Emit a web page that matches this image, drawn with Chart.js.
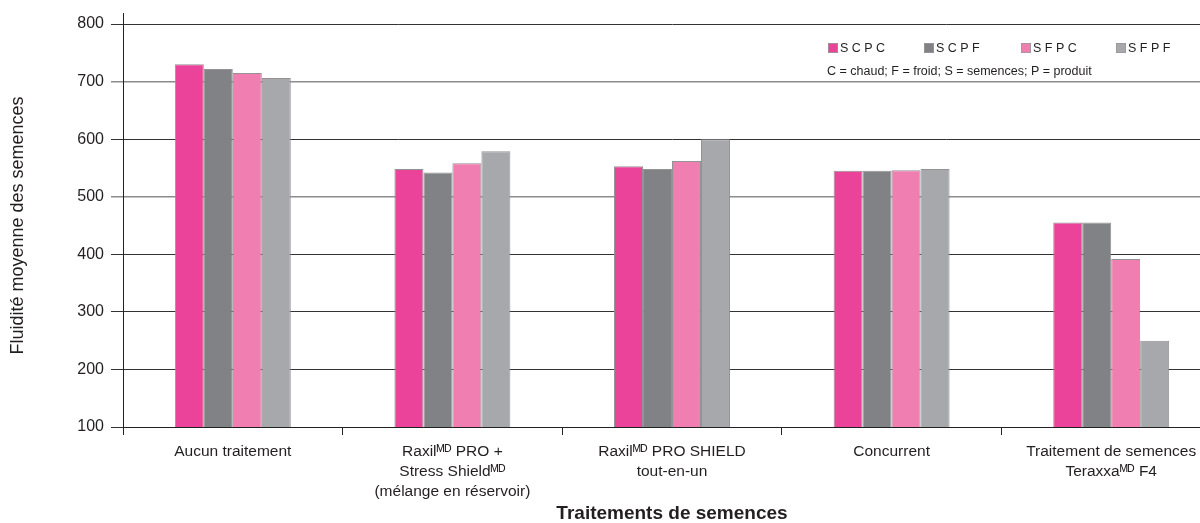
<!DOCTYPE html>
<html lang="fr">
<head>
  <meta charset="UTF-8">
  <title>Fluidité moyenne des semences</title>
  <script src="https://cdn.jsdelivr.net/npm/chart.js"></script>
  <style>
    html, body { margin: 0; padding: 0; background: #fff; overflow: hidden; }
    #wrap { position: relative; width: 1240px; height: 523px; }
  </style>
</head>
<body>

<div id="wrap"><canvas id="fluidityChart"></canvas></div>

<script>
// données
const categories = [
  "Aucun traitement",
  ["Raxilᴹᴰ PRO +", "Stress Shieldᴹᴰ", "(mélange en réservoir)"],
  ["Raxilᴹᴰ PRO SHIELD", "tout-en-un"],
  "Concurrent",
  ["Traitement de semences", "Teraxxaᴹᴰ F4"]
];
const seriesNames = ["S C P C", "S C P F", "S F P C", "S F P F"];
const scpc = [730, 548, 553, 545, 455];
const scpf = [722, 542, 548, 545, 455];
const sfpc = [715, 558, 562, 546, 392];
const sfpf = [706, 579, 600, 548, 250];
const yTicks = [100, 200, 300, 400, 500, 600, 700, 800];
const legendNote = "C = chaud; F = froid; S = semences; P = produit";

const colors = ["#ea4399", "#808285", "#f07eb0", "#a7a8ab"];
const regular = "'Liberation Sans', Arial, sans-serif";
const ink = "#231f20";

// légende dessinée dans la zone du graphique, en haut à droite
const insideLegend = {
  id: "insideLegend",
  afterDraw(chart) {
    const ctx = chart.ctx;
    const xs = [828, 924, 1021, 1116];
    ctx.save();
    ctx.font = "12.5px " + regular;
    ctx.textBaseline = "middle";
    ctx.fillStyle = ink;
    chart.data.datasets.forEach((ds, i) => {
      ctx.fillStyle = ds.backgroundColor;
      ctx.fillRect(xs[i], 43, 10, 10);
      ctx.strokeStyle = "#9a9a9a";
      ctx.lineWidth = 0.8;
      ctx.strokeRect(xs[i] + 0.5, 43.5, 9, 9);
      ctx.fillStyle = ink;
      ctx.fillText(ds.label, xs[i] + 12, 48.5);
    });
    ctx.fillText(legendNote, 827, 72);
    ctx.restore();
  }
};

// l'axe vertical dépasse un peu au-dessus de 800
const axisExtend = {
  id: "axisExtend",
  afterDraw(chart) {
    const { ctx, chartArea } = chart;
    ctx.save();
    ctx.strokeStyle = "#222";
    ctx.lineWidth = 1;
    ctx.beginPath();
    ctx.moveTo(chartArea.left + 0.5, chartArea.top - 11);
    ctx.lineTo(chartArea.left + 0.5, chartArea.top);
    ctx.stroke();
    ctx.restore();
  }
};

const ctx = document.getElementById("fluidityChart").getContext("2d");
new Chart(ctx, {
  type: "bar",
  data: {
    labels: categories,
    datasets: [scpc, scpf, sfpc, sfpf].map((vals, i) => ({
      label: seriesNames[i],
      data: vals,
      backgroundColor: colors[i],
      borderColor: "#939393",
      borderWidth: 1,
      categoryPercentage: 0.528,
      barPercentage: 1
    }))
  },
  options: {
    responsive: true,
    maintainAspectRatio: false,
    animation: false,
    layout: { padding: { top: 24, right: 19, left: 0, bottom: 0 } },
    plugins: {
      legend: { display: false },
      tooltip: { enabled: false }
    },
    scales: {
      x: {
        offset: true,
        grid: { display: true, drawOnChartArea: false, drawTicks: true, tickLength: 8, color: "#222", offset: true },
        border: { display: true, color: "#222", width: 1 },
        ticks: {
          color: ink,
          padding: 7,
          maxRotation: 0,
          autoSkip: false,
          font: { family: regular, size: 15.5, lineHeight: 1.29 }
        },
        title: {
          display: true,
          text: "Traitements de semences",
          color: ink,
          font: { family: regular, size: 19, weight: "bold", lineHeight: 1 },
          padding: { top: 0, bottom: 0 }
        },
        afterFit(scale) { scale.height = 96; }
      },
      y: {
        min: 100,
        max: 800,
        afterBuildTicks(scale) { scale.ticks = yTicks.map(v => ({ value: v })); },
        grid: {
          color: c => (c.tick && (c.tick.value === 700 || c.tick.value === 500)) ? "#8c8c8c" : "#333",
          lineWidth: c => (c.tick && (c.tick.value === 700 || c.tick.value === 500)) ? 1.5 : 1,
          tickLength: 12
        },
        border: { display: true, color: "#222", width: 1 },
        ticks: {
          color: ink,
          padding: 7,
          font: { family: regular, size: 16 }
        },
        title: {
          display: true,
          text: "Fluidité moyenne des semences",
          color: ink,
          font: { family: regular, size: 18, lineHeight: 1.2 },
          padding: { top: 7.2, bottom: 0 }
        },
        afterFit(scale) { scale.width = 123; }
      }
    }
  },
  plugins: [insideLegend, axisExtend]
});
</script>

</body>
</html>
